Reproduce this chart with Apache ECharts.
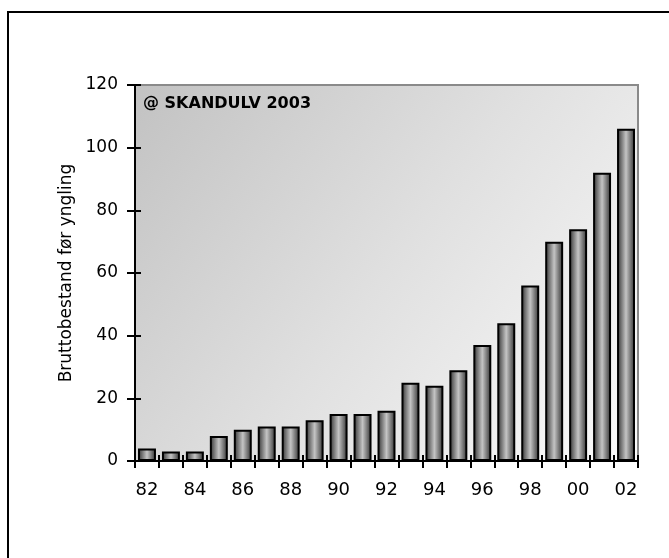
<!DOCTYPE html>
<html>
<head>
<meta charset="utf-8">
<script src="https://cdn.jsdelivr.net/npm/echarts@6/dist/echarts.min.js"></script>
<style>html,body{margin:0;padding:0;background:#fff}#c{width:669px;height:558px}</style>
</head>
<body>
<div id="c"></div>
<script>
var categories = ['82','83','84','85','86','87','88','89','90','91','92','93','94','95','96','97','98','99','00','01','02'];
var values = [4,3,3,8,10,11,11,13,15,15,16,25,24,29,37,44,56,70,74,92,106];
var yTicks = {min:0, max:120, interval:20};
var yName = 'Bruttobestand før yngling';
var watermark = '@ SKANDULV 2003';

var FONT = '"DejaVu Sans", sans-serif';
var chart = echarts.init(document.getElementById('c'), null, {renderer:'canvas'});
var barGrad = new echarts.graphic.LinearGradient(0,0,1,0,[
  {offset:0,color:'#2e2e2e'},{offset:0.5,color:'#c4c4c4'},{offset:1,color:'#2e2e2e'}]);
chart.setOption({
  animation:false,
  backgroundColor:'#ffffff',
  title:{text:watermark,left:138,top:91,textStyle:{fontFamily:FONT,fontSize:16,fontWeight:'bold',color:'#000'}},
  graphic:[
    {type:'line',shape:{x1:7,y1:12,x2:669,y2:12},style:{stroke:'#000',lineWidth:2},z:100},
    {type:'line',shape:{x1:8,y1:11,x2:8,y2:558},style:{stroke:'#000',lineWidth:2},z:100}
  ],
  grid:{left:135,top:85,right:31,bottom:97,show:true,borderColor:'#8a8a8a',borderWidth:2,
    backgroundColor:new echarts.graphic.LinearGradient(0,0,1,1,[
      {offset:0,color:'#c2c2c2'},{offset:0.5,color:'#e0e0e0'},{offset:1,color:'#fbfbfb'}])},
  xAxis:[
    {type:'category',data:categories,boundaryGap:true,
     axisLine:{lineStyle:{color:'#000',width:2}},
     axisTick:{show:true,interval:0,length:7,lineStyle:{color:'#000',width:2}},
     axisLabel:{interval:1,margin:20,fontFamily:FONT,fontSize:18,color:'#000'}},
    {type:'category',data:categories,boundaryGap:true,position:'bottom',
     axisLine:{show:false},
     axisTick:{show:true,inside:true,interval:0,length:6,lineStyle:{color:'#000',width:2}},
     axisLabel:{show:false}}
  ],
  yAxis:[
    {type:'value',min:yTicks.min,max:yTicks.max,interval:yTicks.interval,
     name:yName,nameLocation:'middle',nameGap:60,nameRotate:90,
     nameTextStyle:{fontFamily:FONT,fontSize:17,color:'#000'},
     splitLine:{show:false},
     axisLine:{show:true,lineStyle:{color:'#000',width:2}},
     axisTick:{show:true,length:8,lineStyle:{color:'#000',width:2}},
     axisLabel:{margin:17,fontFamily:FONT,fontSize:17,color:'#000'}},
    {type:'value',min:yTicks.min,max:yTicks.max,interval:yTicks.interval,position:'left',
     splitLine:{show:false},axisLine:{show:false},
     axisTick:{show:true,inside:true,length:6,lineStyle:{color:'#000',width:2}},
     axisLabel:{show:false}}
  ],
  series:[{type:'bar',data:values,xAxisIndex:0,yAxisIndex:0,barCategoryGap:'25%',
    itemStyle:{color:barGrad,borderColor:'#000',borderWidth:2}}]
});
</script>
</body>
</html>
